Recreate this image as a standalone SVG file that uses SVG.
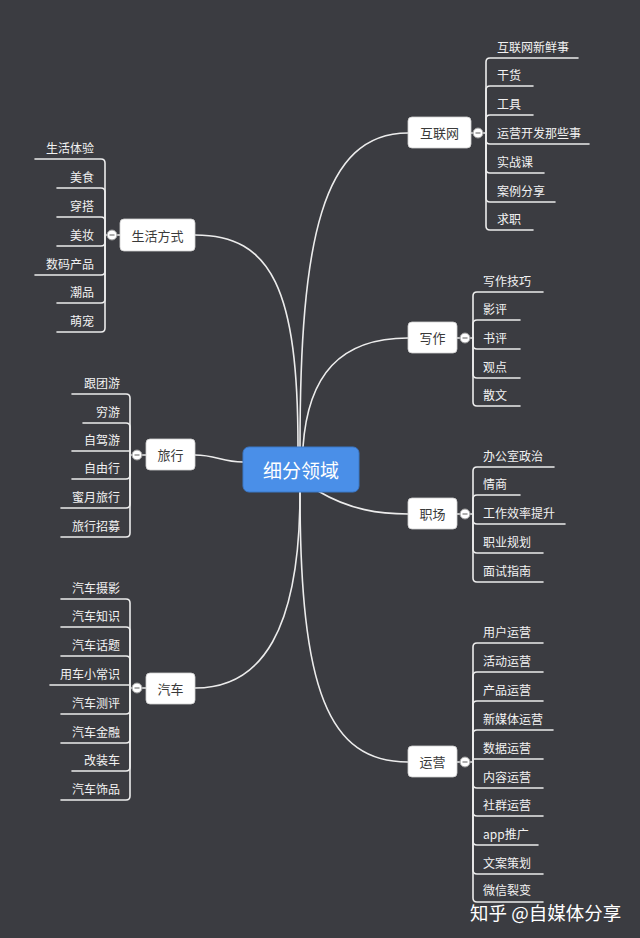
<svg xmlns="http://www.w3.org/2000/svg" width="640" height="938" viewBox="0 0 640 938">
<style>
.bg{fill:#3b3c41}
.ln{fill:none;stroke:#ececec;stroke-width:1.6;stroke-linecap:round}
.box{fill:#ffffff;stroke:#d0d0d0;stroke-width:0.8}
.nt{font-family:"Noto Sans CJK SC","Noto Sans",sans-serif;font-size:13px;fill:#3a3a3a;text-anchor:middle;dominant-baseline:central}
.lf{font-family:"Noto Sans CJK SC","Noto Sans",sans-serif;font-size:12px;fill:#f2f2f2}
.lr{text-anchor:end}
.cc{fill:#ffffff;stroke:#9a9a9a;stroke-width:1}
.cm{stroke:#777;stroke-width:1.2}
.ctr{fill:#4a8fe8;stroke:#3b78c8;stroke-width:1}
.ct{font-family:"Noto Sans CJK SC","Noto Sans",sans-serif;font-size:19px;fill:#ffffff;text-anchor:middle;dominant-baseline:central}
.wm{font-family:"Noto Sans CJK SC","Noto Sans",sans-serif;font-size:18.5px;fill:#ffffff}
</style>
<rect class="bg" x="0" y="0" width="640" height="938"/>

<g id="connectors">
  <!-- main curves -->
  <path class="ln" d="M300,447 C300,240 322,133 408,133"/>
  <path class="ln" d="M303,447 C308,375 340,338 408,338"/>
  <path class="ln" d="M318,491 C350,510 380,514 408,514"/>
  <path class="ln" d="M300,492 C300,690 328,762 408,762"/>
  <path class="ln" d="M298,447 C298,290 272,235 195,235"/>
  <path class="ln" d="M243,462 C222,462 216,455 195,455"/>
  <path class="ln" d="M300,492 C300,630 262,688 195,688"/>

  <!-- 互联网 -->
  <path class="ln" d="M471,133 H486"/>
  <path class="ln" d="M486,133 V62 Q486,58 490,58 H578"/>
  <path class="ln" d="M486,133 V90 Q486,86 490,86 H533"/>
  <path class="ln" d="M486,133 V119 Q486,115 490,115 H533"/>
  <path class="ln" d="M486,133 V140 Q486,144 490,144 H589"/>
  <path class="ln" d="M486,133 V169 Q486,173 490,173 H544"/>
  <path class="ln" d="M486,133 V198 Q486,202 490,202 H555"/>
  <path class="ln" d="M486,133 V226 Q486,230 490,230 H533"/>

  <!-- 写作 -->
  <path class="ln" d="M457,338 H473"/>
  <path class="ln" d="M473,338 V296 Q473,292 477,292 H543"/>
  <path class="ln" d="M473,338 V324 Q473,320 477,320 H520"/>
  <path class="ln" d="M473,338 V345 Q473,349 477,349 H520"/>
  <path class="ln" d="M473,338 V374 Q473,378 477,378 H520"/>
  <path class="ln" d="M473,338 V402 Q473,406 477,406 H520"/>

  <!-- 职场 -->
  <path class="ln" d="M457,514 H473"/>
  <path class="ln" d="M473,514 V471 Q473,467 477,467 H554"/>
  <path class="ln" d="M473,514 V499 Q473,495 477,495 H520"/>
  <path class="ln" d="M473,514 V520 Q473,524 477,524 H565"/>
  <path class="ln" d="M473,514 V549 Q473,553 477,553 H543"/>
  <path class="ln" d="M473,514 V578 Q473,582 477,582 H543"/>

  <!-- 运营 -->
  <path class="ln" d="M457,762 H473"/>
  <path class="ln" d="M473,762 V647 Q473,643 477,643 H543"/>
  <path class="ln" d="M473,762 V676 Q473,672 477,672 H543"/>
  <path class="ln" d="M473,762 V705 Q473,701 477,701 H543"/>
  <path class="ln" d="M473,762 V734 Q473,730 477,730 H553"/>
  <path class="ln" d="M473,759 H543"/>
  <path class="ln" d="M473,762 V784 Q473,788 477,788 H543"/>
  <path class="ln" d="M473,762 V812 Q473,816 477,816 H543"/>
  <path class="ln" d="M473,762 V841 Q473,845 477,845 H538"/>
  <path class="ln" d="M473,762 V870 Q473,874 477,874 H543"/>
  <path class="ln" d="M473,762 V898 Q473,902 477,902 H543"/>

  <!-- 生活方式 -->
  <path class="ln" d="M120,235 H105"/>
  <path class="ln" d="M105,235 V163 Q105,159 101,159 H35"/>
  <path class="ln" d="M105,235 V192 Q105,188 101,188 H57"/>
  <path class="ln" d="M105,235 V221 Q105,217 101,217 H57"/>
  <path class="ln" d="M105,235 V242 Q105,246 101,246 H57"/>
  <path class="ln" d="M105,235 V271 Q105,275 101,275 H35"/>
  <path class="ln" d="M105,235 V299 Q105,303 101,303 H57"/>
  <path class="ln" d="M105,235 V328 Q105,332 101,332 H57"/>

  <!-- 旅行 -->
  <path class="ln" d="M146,455 H130"/>
  <path class="ln" d="M130,455 V398 Q130,394 126,394 H72"/>
  <path class="ln" d="M130,455 V427 Q130,423 126,423 H83"/>
  <path class="ln" d="M130,451 H72"/>
  <path class="ln" d="M130,455 V475 Q130,479 126,479 H72"/>
  <path class="ln" d="M130,455 V504 Q130,508 126,508 H61"/>
  <path class="ln" d="M130,455 V533 Q130,537 126,537 H61"/>

  <!-- 汽车 -->
  <path class="ln" d="M146,688 H130"/>
  <path class="ln" d="M130,688 V603 Q130,599 126,599 H61"/>
  <path class="ln" d="M130,688 V631 Q130,627 126,627 H61"/>
  <path class="ln" d="M130,688 V660 Q130,656 126,656 H61"/>
  <path class="ln" d="M130,685 H50"/>
  <path class="ln" d="M130,688 V710 Q130,714 126,714 H61"/>
  <path class="ln" d="M130,688 V739 Q130,743 126,743 H61"/>
  <path class="ln" d="M130,688 V767 Q130,771 126,771 H72"/>
  <path class="ln" d="M130,688 V796 Q130,800 126,800 H61"/>

  <!-- collapse buttons -->
  <g><circle class="cc" cx="478" cy="133" r="5"/><path class="cm" d="M475.5,133 H480.5"/></g>
  <g><circle class="cc" cx="465" cy="338" r="5"/><path class="cm" d="M462.5,338 H467.5"/></g>
  <g><circle class="cc" cx="465" cy="514" r="5"/><path class="cm" d="M462.5,514 H467.5"/></g>
  <g><circle class="cc" cx="465" cy="762" r="5"/><path class="cm" d="M462.5,762 H467.5"/></g>
  <g><circle class="cc" cx="112" cy="235" r="5"/><path class="cm" d="M109.5,235 H114.5"/></g>
  <g><circle class="cc" cx="137" cy="455" r="5"/><path class="cm" d="M134.5,455 H139.5"/></g>
  <g><circle class="cc" cx="137" cy="688" r="5"/><path class="cm" d="M134.5,688 H139.5"/></g>
</g>

<g id="center">
  <rect class="ctr" x="243" y="447" width="116" height="45" rx="6"/>
  <text class="ct" x="301" y="469">细分领域</text>
</g>

<g id="n-internet"><rect class="box" x="408" y="117" width="63" height="31" rx="4"/><text class="nt" x="439.5" y="132.5">互联网</text></g>
<g id="n-writing"><rect class="box" x="408" y="322" width="49" height="31" rx="4"/><text class="nt" x="432.5" y="337.5">写作</text></g>
<g id="n-work"><rect class="box" x="408" y="498" width="49" height="31" rx="4"/><text class="nt" x="432.5" y="513.5">职场</text></g>
<g id="n-ops"><rect class="box" x="408" y="746" width="49" height="31" rx="4"/><text class="nt" x="432.5" y="761.5">运营</text></g>
<g id="n-life"><rect class="box" x="120" y="219" width="75" height="32" rx="4"/><text class="nt" x="157.5" y="235">生活方式</text></g>
<g id="n-travel"><rect class="box" x="146" y="439" width="49" height="31" rx="4"/><text class="nt" x="170.5" y="454.5">旅行</text></g>
<g id="n-car"><rect class="box" x="146" y="673" width="49" height="31" rx="4"/><text class="nt" x="170.5" y="688">汽车</text></g>

<g id="leaves-internet">
  <text class="lf" x="497" y="52">互联网新鲜事</text>
  <text class="lf" x="497" y="80">干货</text>
  <text class="lf" x="497" y="109">工具</text>
  <text class="lf" x="497" y="138">运营开发那些事</text>
  <text class="lf" x="497" y="167">实战课</text>
  <text class="lf" x="497" y="196">案例分享</text>
  <text class="lf" x="497" y="224">求职</text>
</g>
<g id="leaves-writing">
  <text class="lf" x="483" y="286">写作技巧</text>
  <text class="lf" x="483" y="314">影评</text>
  <text class="lf" x="483" y="343">书评</text>
  <text class="lf" x="483" y="372">观点</text>
  <text class="lf" x="483" y="400">散文</text>
</g>
<g id="leaves-work">
  <text class="lf" x="483" y="461">办公室政治</text>
  <text class="lf" x="483" y="489">情商</text>
  <text class="lf" x="483" y="518">工作效率提升</text>
  <text class="lf" x="483" y="547">职业规划</text>
  <text class="lf" x="483" y="576">面试指南</text>
</g>
<g id="leaves-ops">
  <text class="lf" x="483" y="637">用户运营</text>
  <text class="lf" x="483" y="666">活动运营</text>
  <text class="lf" x="483" y="695">产品运营</text>
  <text class="lf" x="483" y="724">新媒体运营</text>
  <text class="lf" x="483" y="753">数据运营</text>
  <text class="lf" x="483" y="782">内容运营</text>
  <text class="lf" x="483" y="810">社群运营</text>
  <text class="lf" x="483" y="839">app推广</text>
  <text class="lf" x="483" y="868">文案策划</text>
  <text class="lf" x="483" y="895">微信裂变</text>
</g>
<g id="leaves-life">
  <text class="lf lr" x="94" y="153">生活体验</text>
  <text class="lf lr" x="94" y="182">美食</text>
  <text class="lf lr" x="94" y="211">穿搭</text>
  <text class="lf lr" x="94" y="240">美妆</text>
  <text class="lf lr" x="94" y="269">数码产品</text>
  <text class="lf lr" x="94" y="297">潮品</text>
  <text class="lf lr" x="94" y="326">萌宠</text>
</g>
<g id="leaves-travel">
  <text class="lf lr" x="120" y="388">跟团游</text>
  <text class="lf lr" x="120" y="417">穷游</text>
  <text class="lf lr" x="120" y="445">自驾游</text>
  <text class="lf lr" x="120" y="473">自由行</text>
  <text class="lf lr" x="120" y="502">蜜月旅行</text>
  <text class="lf lr" x="120" y="531">旅行招募</text>
</g>
<g id="leaves-car">
  <text class="lf lr" x="120" y="593">汽车摄影</text>
  <text class="lf lr" x="120" y="621">汽车知识</text>
  <text class="lf lr" x="120" y="650">汽车话题</text>
  <text class="lf lr" x="120" y="679">用车小常识</text>
  <text class="lf lr" x="120" y="708">汽车测评</text>
  <text class="lf lr" x="120" y="737">汽车金融</text>
  <text class="lf lr" x="120" y="765">改装车</text>
  <text class="lf lr" x="120" y="794">汽车饰品</text>
</g>

<text class="wm" x="470" y="920">知乎 @自媒体分享</text>
</svg>
